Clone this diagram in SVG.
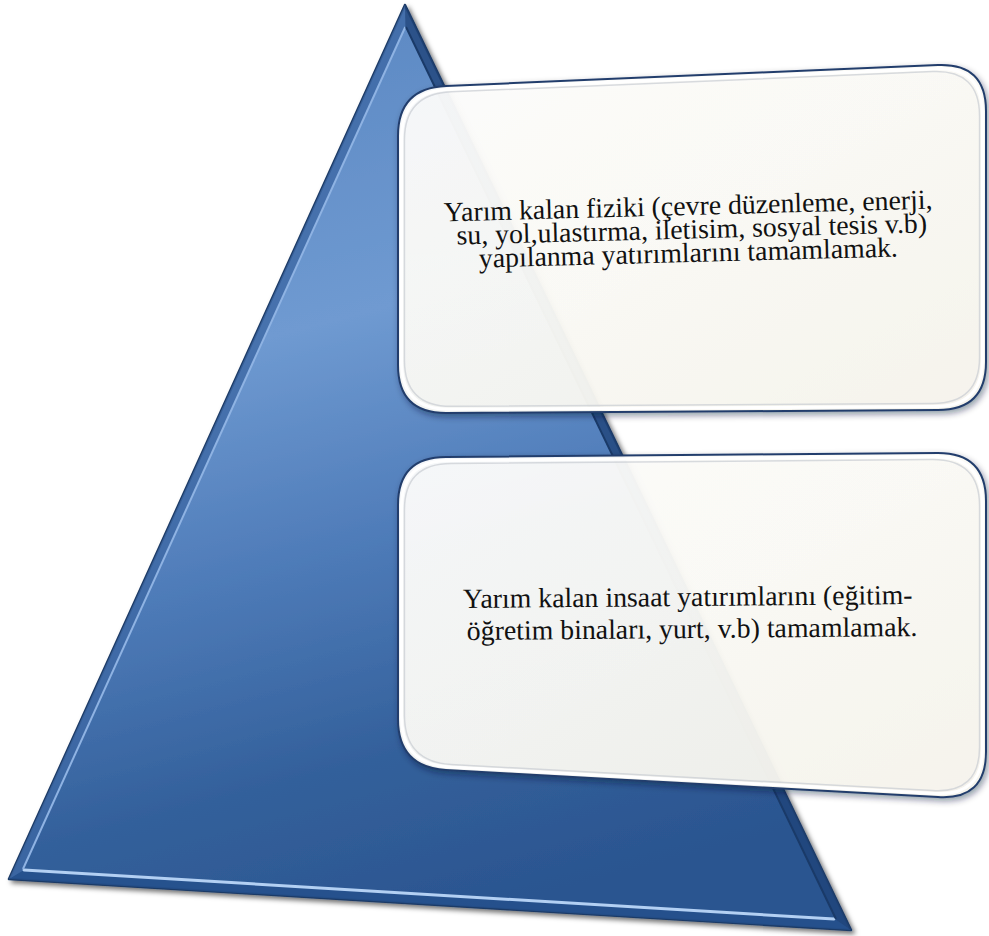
<svg xmlns="http://www.w3.org/2000/svg" width="989" height="936" viewBox="0 0 989 936">
  <defs>
    <linearGradient id="triFill" gradientUnits="userSpaceOnUse" x1="300" y1="60" x2="520" y2="900">
      <stop offset="0" stop-color="#5f8bc5"/>
      <stop offset="0.3" stop-color="#6f9ad1"/>
      <stop offset="0.55" stop-color="#4f7cb9"/>
      <stop offset="0.8" stop-color="#33609b"/>
      <stop offset="1" stop-color="#2b5590"/>
    </linearGradient>
    <linearGradient id="boxFill" x1="0" y1="0" x2="1" y2="1">
      <stop offset="0" stop-color="#ffffff"/>
      <stop offset="0.5" stop-color="#fdfcf7"/>
      <stop offset="1" stop-color="#f8f6ee"/>
    </linearGradient>
    <filter id="triShadow" x="-5%" y="-5%" width="115%" height="115%">
      <feDropShadow dx="3" dy="3" stdDeviation="2.5" flood-color="#000000" flood-opacity="0.55"/>
    </filter>
    <filter id="boxShadow" x="-5%" y="-5%" width="115%" height="120%">
      <feDropShadow dx="2" dy="3" stdDeviation="3" flood-color="#0a1a33" flood-opacity="0.45"/>
    </filter>
    <style>
      .box { fill: url(#boxFill); fill-opacity: 0.93; stroke: #223e6c; stroke-width: 2; }
      .bevelW { fill: none; stroke: #ffffff; stroke-width: 3; vector-effect: non-scaling-stroke; }
      .bevelG { fill: none; stroke: #c9cdd3; stroke-width: 1.5; opacity: 0.7; vector-effect: non-scaling-stroke; }
      .t { font-family: "Liberation Serif", "Times New Roman", serif; font-size: 27.8px; fill: #111111; text-anchor: middle; }
    </style>
  </defs>

  <g id="pyramid">
    <polygon points="405,5 9,879 851,930" fill="url(#triFill)" stroke="#1c3a66" stroke-width="2.5" stroke-linejoin="round" filter="url(#triShadow)"/>
    <polygon points="9,879 851,930 836.2,920.1 22.6,870.8" fill="#24508c" opacity="0.85"/>
    <polygon points="405,5 9,879 22.6,870.8 405.25,26.25" fill="#3d68a4" opacity="0.8"/>
    <polygon points="405,5 851,930 836.2,920.1 405.25,26.25" fill="#1f4479" opacity="0.8"/>
    <line x1="24" y1="870" x2="834" y2="919" stroke="#b3d0f3" stroke-width="3" stroke-linecap="round"/>
    <line x1="405.25" y1="27" x2="23" y2="869" stroke="#8fb3e3" stroke-width="2"/>
    <line x1="406" y1="27" x2="836" y2="919" stroke="#1a3a68" stroke-width="2"/>
  </g>

  <g id="connectors"></g>

  <g id="box1">
    <path class="box" filter="url(#boxShadow)" d="M 446,86 L 938,65 Q 986,63 986,111 L 986,362 Q 986,410 938,410 L 446,413 Q 398,413 398,365 L 398,136 Q 398,88 446,86 Z"/>
    <path class="bevelW" transform="translate(692 238) scale(0.988 0.979) translate(-692 -238)" d="M 446,86 L 938,65 Q 986,63 986,111 L 986,362 Q 986,410 938,410 L 446,413 Q 398,413 398,365 L 398,136 Q 398,88 446,86 Z"/>
    <path class="bevelG" transform="translate(692 238) scale(0.978 0.962) translate(-692 -238)" d="M 446,86 L 938,65 Q 986,63 986,111 L 986,362 Q 986,410 938,410 L 446,413 Q 398,413 398,365 L 398,136 Q 398,88 446,86 Z"/>
    <text class="t" transform="rotate(-1.5 690 240)"><tspan x="689" y="215">Yarım kalan fiziki (çevre düzenleme, enerji,</tspan><tspan x="692" y="238.5">su, yol,ulastırma, iletisim, sosyal tesis v.b)</tspan><tspan x="688" y="262">yapılanma yatırımlarını tamamlamak.</tspan></text>
  </g>

  <g id="box2">
    <path class="box" filter="url(#boxShadow)" d="M 446,457 L 938,453 Q 986,453 986,501 L 986,752 Q 986,800 938,797 L 446,770 Q 398,767 398,719 L 398,505 Q 398,457 446,457 Z"/>
    <path class="bevelW" transform="translate(692 627) scale(0.988 0.979) translate(-692 -627)" d="M 446,457 L 938,453 Q 986,453 986,501 L 986,752 Q 986,800 938,797 L 446,770 Q 398,767 398,719 L 398,505 Q 398,457 446,457 Z"/>
    <path class="bevelG" transform="translate(692 627) scale(0.978 0.962) translate(-692 -627)" d="M 446,457 L 938,453 Q 986,453 986,501 L 986,752 Q 986,800 938,797 L 446,770 Q 398,767 398,719 L 398,505 Q 398,457 446,457 Z"/>
    <text class="t" transform="rotate(-0.5 690 622)"><tspan x="688" y="606">Yarım kalan insaat yatırımlarını (eğitim-</tspan><tspan x="692" y="638">öğretim binaları, yurt, v.b) tamamlamak.</tspan></text>
  </g>
</svg>
